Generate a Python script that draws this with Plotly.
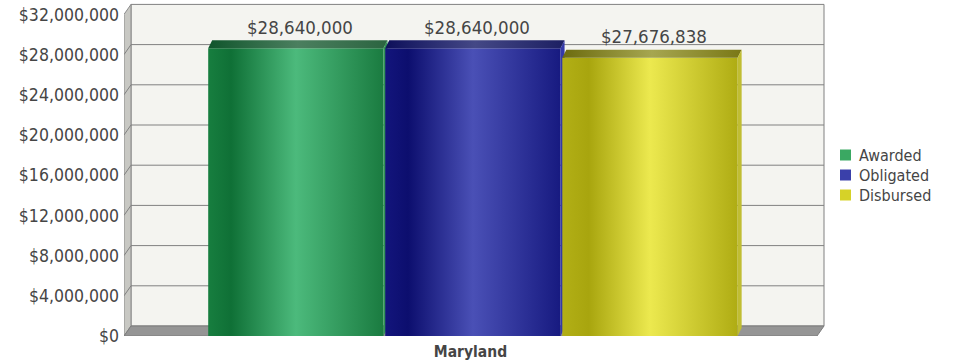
import plotly.graph_objects as go

# ---- data -------------------------------------------------------------
category = "Maryland"
series_names = ["Awarded", "Obligated", "Disbursed"]
series_values = [28640000, 28640000, 27676838]
value_labels = ["$28,640,000", "$28,640,000", "$27,676,838"]

tick_values = [0, 4000000, 8000000, 12000000, 16000000, 20000000,
               24000000, 28000000, 32000000]
tick_labels = ["$0", "$4,000,000", "$8,000,000", "$12,000,000", "$16,000,000",
               "$20,000,000", "$24,000,000", "$28,000,000", "$32,000,000"]

# ---- styling ----------------------------------------------------------
FONT = "DejaVu Sans Condensed, DejaVu Sans, sans-serif"
TEXT_COLOR = "#454545"

# per-series colours: front gradient, top gradient, side face
front_scales = [
    [[0, "#177e3f"], [0.13, "#0f7036"], [0.5, "#4cba7c"], [1, "#1a7b40"]],
    [[0, "#13157c"], [0.13, "#0c0e6e"], [0.5, "#4a50b6"], [1, "#171a80"]],
    [[0, "#b2af16"], [0.15, "#a8a50e"], [0.5, "#ece94f"], [1, "#afac13"]],
]
top_scales = [
    [[0, "#10552c"], [0.5, "#4b7f5f"], [1, "#2b6440"]],
    [[0, "#0d0f5a"], [0.5, "#444886"], [1, "#1c1f62"]],
    [[0, "#6c6b0e"], [0.5, "#a6a650"], [1, "#7a7816"]],
]
side_colors = ["#2f9455", "#3439a8", "#c0bd32"]
legend_colors = ["#3aa862", "#3a40aa", "#d6d228"]

# ---- geometry (axis units) -------------------------------------------
W, H = 955, 363
M_L, M_R, M_T, M_B = 124, 128, 2, 27
PX_PER_CAT = 693.0                     # pixels per category width
PX_PER_DOLLAR = 10.05e-6               # pixels per dollar
plot_w = W - M_L - M_R
plot_h = H - M_T - M_B
X0 = -0.5
X1 = X0 + plot_w / PX_PER_CAT
Y_MAX = plot_h / PX_PER_DOLLAR

DX = 7 / PX_PER_CAT                    # wall depth
DY = 10 / PX_PER_DOLLAR
BDX = 4 / PX_PER_CAT                   # bar depth
BDY = 8 / PX_PER_DOLLAR
TOP = tick_values[-1]

BAR_WIDTH = 0.253
BAR_STEP = 0.2555
GROUP_CENTER = 0.0035


def paper_x(px):
    return (px - M_L) / plot_w


def paper_y(py):
    return (H - M_B - py) / plot_h


fig = go.Figure()
shapes = []

GRID = "#808080"
# back wall
shapes.append(dict(type="rect", xref="x", yref="y", layer="below",
                   x0=X0 + DX, x1=0.5 + DX, y0=DY, y1=TOP + DY,
                   fillcolor="#f4f4f0", line=dict(color=GRID, width=1)))
# left wall
shapes.append(dict(type="path", xref="x", yref="y", layer="below",
                   path=f"M {X0},0 L {X0 + DX},{DY} L {X0 + DX},{TOP + DY} L {X0},{TOP} Z",
                   fillcolor="#c8c8c3", line=dict(color="#8a8a8a", width=1)))
# gridlines on back wall and left wall
for v in tick_values[1:-1]:
    shapes.append(dict(type="line", xref="x", yref="y", layer="below",
                       x0=X0 + DX, x1=0.5 + DX, y0=v + DY, y1=v + DY,
                       line=dict(color=GRID, width=1)))
    shapes.append(dict(type="line", xref="x", yref="y", layer="below",
                       x0=X0, x1=X0 + DX, y0=v, y1=v + DY,
                       line=dict(color=GRID, width=1)))
# floor
shapes.append(dict(type="path", xref="x", yref="y", layer="below",
                   path=f"M {X0},0 L 0.5,0 L {0.5 + DX},{DY} L {X0 + DX},{DY} Z",
                   fillcolor="#959595", line=dict(color="#7c7c7c", width=1)))

annotations = []
n = len(series_values)
for i, (name, v, lab) in enumerate(zip(series_names, series_values, value_labels)):
    cx = GROUP_CENTER + (i - (n - 1) / 2) * BAR_STEP
    x0, x1 = cx - BAR_WIDTH / 2, cx + BAR_WIDTH / 2
    # front face
    fig.add_trace(go.Scatter(
        x=[x0, x1, x1, x0, x0], y=[0, 0, v, v, 0], mode="lines",
        fill="toself", line=dict(width=0), name=name,
        fillgradient=dict(type="horizontal", colorscale=front_scales[i]),
        hoverinfo="skip", showlegend=False))
    # top face
    fig.add_trace(go.Scatter(
        x=[x0, x1, x1 + BDX, x0 + BDX, x0], y=[v, v, v + BDY, v + BDY, v],
        mode="lines", fill="toself", line=dict(width=0),
        fillgradient=dict(type="horizontal", colorscale=top_scales[i]),
        hoverinfo="skip", showlegend=False))
    # side face
    fig.add_trace(go.Scatter(
        x=[x1, x1 + BDX, x1 + BDX, x1, x1], y=[0, BDY, v + BDY, v, 0],
        mode="lines", fill="toself", line=dict(width=0),
        fillcolor=side_colors[i], hoverinfo="skip", showlegend=False))
    annotations.append(dict(
        x=cx + BDX, y=v + BDY, xref="x", yref="y", text=lab, showarrow=False,
        yanchor="middle", yshift=13,
        font=dict(family=FONT, size=18.5, color=TEXT_COLOR)))

# legend: swatch + label per series
LEG_X, LEG_Y, LEG_STEP, SW = 840, 155, 20, 11
for i, (name, c) in enumerate(zip(series_names, legend_colors)):
    yc = LEG_Y + i * LEG_STEP
    shapes.append(dict(type="rect", xref="paper", yref="paper",
                       x0=paper_x(LEG_X), x1=paper_x(LEG_X + SW),
                       y0=paper_y(yc + SW / 2), y1=paper_y(yc - SW / 2),
                       fillcolor=c, line=dict(width=0)))
    annotations.append(dict(
        x=paper_x(LEG_X + SW + 6), y=paper_y(yc), xref="paper", yref="paper",
        text=name, showarrow=False, xanchor="left", yanchor="middle",
        font=dict(family=FONT, size=16, color=TEXT_COLOR)))

fig.update_layout(
    width=W, height=H,
    margin=dict(l=M_L, r=M_R, t=M_T, b=M_B),
    paper_bgcolor="white", plot_bgcolor="white",
    shapes=shapes, annotations=annotations,
    showlegend=False,
    xaxis=dict(range=[X0, X1], showgrid=False, zeroline=False, showline=False,
               tickvals=[0], ticktext=[f"<b>{category}</b>"], ticks="",
               ticklabelstandoff=4,
               tickfont=dict(family=FONT, size=15.5, color=TEXT_COLOR),
               fixedrange=True),
    yaxis=dict(range=[0, Y_MAX], showgrid=False, zeroline=False, showline=False,
               tickvals=tick_values, ticktext=tick_labels, ticks="",
               ticklabelstandoff=4,
               tickfont=dict(family=FONT, size=17.5, color=TEXT_COLOR),
               fixedrange=True),
)

fig.write_html("out.html")
